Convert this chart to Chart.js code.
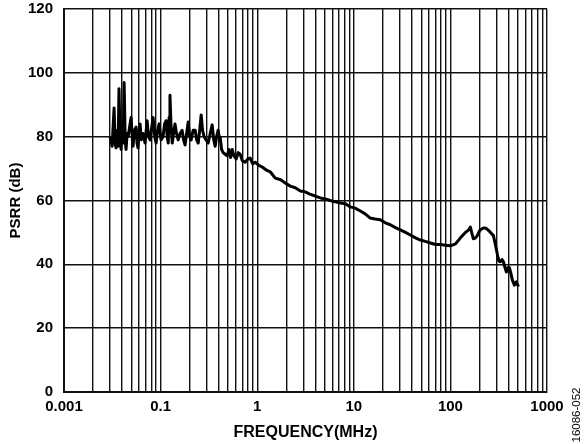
<!DOCTYPE html>
<html>
<head>
<meta charset="utf-8">
<script src="https://cdn.jsdelivr.net/npm/chart.js@4"></script>
<style>
  html, body { margin: 0; padding: 0; background: #fff; }
  #wrap { width: 585px; height: 444px; position: relative; }
</style>
</head>
<body>
<div id="wrap"><canvas id="psrrChart" width="585" height="444"></canvas></div>
<script>
// frequency (MHz) and PSRR (dB)
const freqMHz = [
  0.030, 0.0315, 0.033, 0.0338, 0.0346, 0.0355, 0.0363, 0.0371, 0.038, 0.039,
  0.040, 0.041, 0.0419, 0.043, 0.0439, 0.045, 0.0461, 0.0478, 0.0495, 0.051,
  0.0519, 0.0535, 0.0557, 0.057, 0.0584, 0.060, 0.0613, 0.063, 0.0658, 0.069,
  0.0725, 0.075, 0.0779, 0.081, 0.0836, 0.087, 0.0898, 0.093, 0.0965, 0.101,
  0.106, 0.110, 0.114, 0.117, 0.120, 0.1225, 0.125, 0.128, 0.132, 0.136,
  0.141, 0.146, 0.152, 0.159, 0.167, 0.173, 0.179, 0.186, 0.193, 0.200,
  0.207, 0.217, 0.228, 0.236, 0.245, 0.254, 0.263, 0.272, 0.282, 0.296,
  0.311, 0.326, 0.342, 0.355, 0.367, 0.380, 0.394, 0.404, 0.414, 0.428,
  0.444, 0.465, 0.489, 0.510, 0.530, 0.551, 0.575, 0.606, 0.635, 0.666,
  0.700, 0.751, 0.800, 0.846, 0.900, 0.953, 1.04, 1.127, 1.25, 1.364,
  1.537, 1.75, 1.95, 2.2, 2.48, 2.8, 3.14, 3.5, 3.99, 4.5,
  5.07, 5.7, 6.43, 7.3, 8.17, 9.2, 10.3, 11.7, 13.1, 14.8,
  16.6, 18.8, 21.2, 23.9, 27, 30.3, 34.3, 38.5, 43.5, 48.9,
  55, 62.1, 70, 78.8, 88.7, 100, 113, 127, 143, 155,
  161, 166, 173, 181, 190, 200, 209, 220, 231, 245,
  260, 279, 293, 307, 318, 330, 342, 354, 367, 380,
  394, 409, 424, 439, 460, 480, 507
];
const psrrDb = [
  80, 77, 89, 78, 76.5, 82, 77, 95, 80, 76,
  84, 78, 97, 79, 76, 81, 80, 83, 86, 79,
  77, 82, 83, 78, 76.5, 82, 84, 79, 81, 78,
  85, 80, 79, 83, 86, 80, 78, 82, 84, 79,
  80, 84, 85, 80, 78, 86, 93, 84, 78, 81,
  84, 81, 79, 81, 82, 79, 77.4, 81, 84.6, 80,
  79, 82, 82, 79, 78, 82, 86.8, 82, 80, 79,
  78, 81, 83.7, 79, 77, 80, 82, 80, 79.6, 76,
  75, 74.5, 74, 76, 73.5, 76, 74, 73, 75, 74.5,
  72.5, 72, 73, 73.3, 71.5, 72, 71, 70.5, 69.5, 69,
  67, 66.5, 65.5, 64.5, 64, 63, 62.7, 62, 61.4, 60.8,
  60.5, 60, 59.6, 59.2, 59, 58, 57.6, 56.7, 55.8, 54.5,
  54.2, 54, 53, 52.4, 51.5, 50.8, 50, 49.2, 48.3, 47.6,
  47.2, 46.7, 46.2, 46.2, 46, 45.8, 46.4, 48.3, 50, 50.8,
  51.7, 50, 48, 48.2, 49, 50.5, 51, 51.4, 51.4, 50.8,
  50, 49, 46, 43, 41, 40.8, 41.5, 40.8, 39, 37.6,
  39, 38.9, 37, 35, 33.5, 34.5, 33
];

// axis ticks
const xMin = 0.01;
const xMax = 1000;
const xDecades = [0.01, 0.1, 1, 10, 100];
const xLabelValues = [0.01, 0.1, 1, 10, 100, 1000];
const xLabelTexts = ['0.001', '0.1', '1', '10', '100', '1000'];
const yMin = 0;
const yMax = 120;
const yStep = 20;

const points = freqMHz.map((f, i) => ({ x: f, y: psrrDb[i] }));

const boldFont = { family: 'Liberation Sans, Arial, sans-serif', size: 15, weight: 'bold' };

const sideNote = {
  id: 'sideNote',
  afterDraw(chart) {
    const c = chart.ctx;
    c.save();
    c.translate(577, 415);
    c.rotate(-Math.PI / 2);
    c.font = '11.5px Liberation Sans, Arial, sans-serif';
    c.fillStyle = '#000';
    c.textAlign = 'center';
    c.textBaseline = 'middle';
    c.fillText('16086-052', 0, 0);
    c.restore();
  }
};

new Chart(document.getElementById('psrrChart').getContext('2d'), {
  type: 'line',
  data: {
    datasets: [{
      data: points,
      borderColor: '#000',
      borderWidth: 3,
      borderJoinStyle: 'round',
      pointRadius: 0,
      tension: 0,
      fill: false
    }]
  },
  options: {
    responsive: false,
    animation: false,
    layout: { padding: { left: 0, right: 38, top: 9, bottom: 0 } },
    plugins: { legend: { display: false }, tooltip: { enabled: false } },
    scales: {
      x: {
        type: 'logarithmic',
        min: xMin,
        max: xMax,
        afterBuildTicks(scale) {
          const ticks = [];
          xDecades.forEach(d => {
            for (let m = 1; m < 10; m++) ticks.push({ value: d * m });
          });
          ticks.push({ value: xMax });
          scale.ticks = ticks;
        },
        afterFit(scale) {
          scale.height = 52;
          scale.paddingLeft = 0;
          scale.paddingRight = 0;
        },
        grid: { color: '#111', lineWidth: 1.4, drawTicks: false },
        border: { color: '#111', width: 2 },
        ticks: {
          autoSkip: false,
          maxRotation: 0,
          padding: 6,
          color: '#000',
          font: boldFont,
          callback(value) {
            const idx = xLabelValues.findIndex(v => Math.abs(v - value) / v < 1e-6);
            return idx >= 0 ? xLabelTexts[idx] : '';
          }
        },
        title: {
          display: true,
          text: 'FREQUENCY(MHz)',
          color: '#000',
          font: { family: 'Liberation Sans, Arial, sans-serif', size: 16, weight: 'bold' },
          padding: { top: 0, bottom: 2 }
        }
      },
      y: {
        min: yMin,
        max: yMax,
        afterFit(scale) {
          scale.width = 64;
          scale.paddingTop = 0;
          scale.paddingBottom = 0;
        },
        grid: { color: '#111', lineWidth: 1.4, drawTicks: false },
        border: { color: '#111', width: 2 },
        ticks: {
          stepSize: yStep,
          padding: 11,
          color: '#000',
          font: boldFont
        },
        title: {
          display: true,
          text: 'PSRR (dB)',
          color: '#000',
          font: { family: 'Liberation Sans, Arial, sans-serif', size: 15, weight: 'bold' },
          padding: { top: 7, bottom: 0 }
        }
      }
    }
  },
  plugins: [sideNote]
});
</script>
</body>
</html>
